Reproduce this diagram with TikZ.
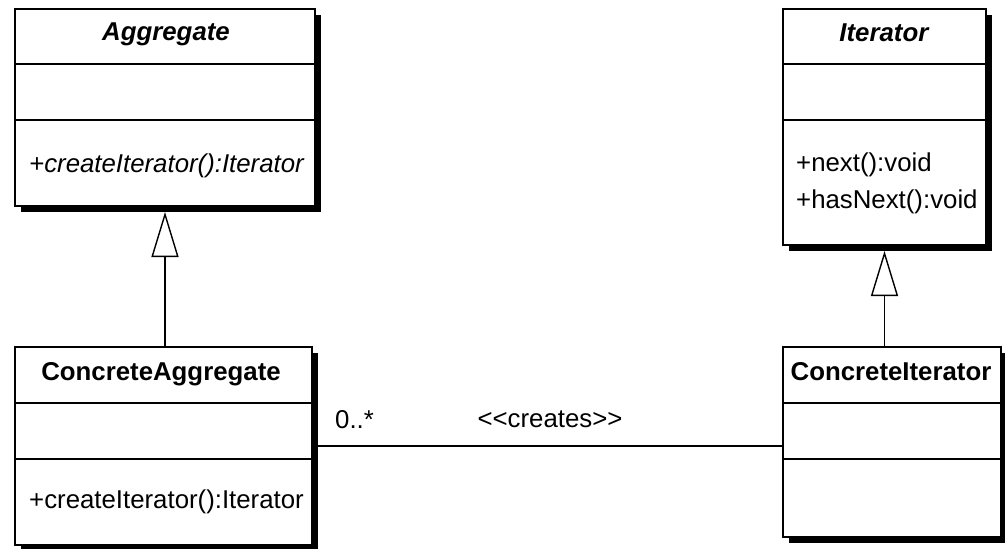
\documentclass[tikz,border=0pt]{standalone}
\usepackage{fontspec}
\setmainfont{Liberation Sans}
\usetikzlibrary{arrows.meta,shadows}

\begin{document}
\begin{tikzpicture}[x=1pt, y=-1pt,
    every node/.style={font=\fontsize{25.8}{31}\selectfont, inner sep=0pt},
    classbox/.style={draw, line width=1.6pt, fill=white, outer sep=0pt, anchor=north west,
      drop shadow={shadow xshift=6pt, shadow yshift=-6pt, fill=black, opacity=1}},
    divider/.style={line width=1.6pt},
    inherits/.style={line width=1.4pt, -{Triangle[open, length=45pt, width=27pt]}}]
  \useasboundingbox (0,0) rectangle (1005,549);

  % class boxes
  \node[classbox, minimum width=300pt, minimum height=197pt] (agg) at (15,9) {};
  \node[classbox, minimum width=203pt, minimum height=236pt] (itr) at (783,9) {};
  \node[classbox, minimum width=297pt, minimum height=198pt] (cagg) at (15,347) {};
  \node[classbox, minimum width=218pt, minimum height=190pt] (citr) at (783,347) {};

  % compartments
  \draw[divider] ([yshift=-55pt]agg.north west) -- ([yshift=-55pt]agg.north east);
  \draw[divider] ([yshift=-111pt]agg.north west) -- ([yshift=-111pt]agg.north east);
  \draw[divider] ([yshift=-55pt]itr.north west) -- ([yshift=-55pt]itr.north east);
  \draw[divider] ([yshift=-111pt]itr.north west) -- ([yshift=-111pt]itr.north east);
  \draw[divider] ([yshift=-56pt]cagg.north west) -- ([yshift=-56pt]cagg.north east);
  \draw[divider] ([yshift=-112pt]cagg.north west) -- ([yshift=-112pt]cagg.north east);
  \draw[divider] ([yshift=-56pt]citr.north west) -- ([yshift=-56pt]citr.north east);
  \draw[divider] ([yshift=-112pt]citr.north west) -- ([yshift=-112pt]citr.north east);

  % names and operations
  \node[anchor=base] (agg-name) at (166,40) {\textbf{\textit{Aggregate}}};
  \node[anchor=base west] (agg-op) at (29,172) {\textit{+createIterator():Iterator}};
  \node[anchor=base] (itr-name) at (884.5,41) {\textbf{\textit{Iterator}}};
  \node[anchor=base west] (itr-next) at (796,171) {+next():void};
  \node[anchor=base west] (itr-hasnext) at (796,208) {+hasNext():void};
  \node[anchor=base] (cagg-name) at (161,380) {\textbf{ConcreteAggregate}};
  \node[anchor=base west] (cagg-op) at (29,508) {+createIterator():Iterator};
  \node[anchor=base] (citr-name) at (891,380) {\textbf{ConcreteIterator}};

  % relations
  \draw[inherits] (agg.south |- cagg.north) -- ([yshift=-6pt]agg.south);
  \draw[inherits] (itr.south |- citr.north) -- ([yshift=-6pt]itr.south);
  \draw[divider] (cagg.east) -- (cagg.east -| citr.west);
  \node[anchor=base west] (mult) at (335,428) {0..*};
  \node[anchor=base] (creates) at (550,427) {<{}<creates>{}>};
\end{tikzpicture}
\end{document}
